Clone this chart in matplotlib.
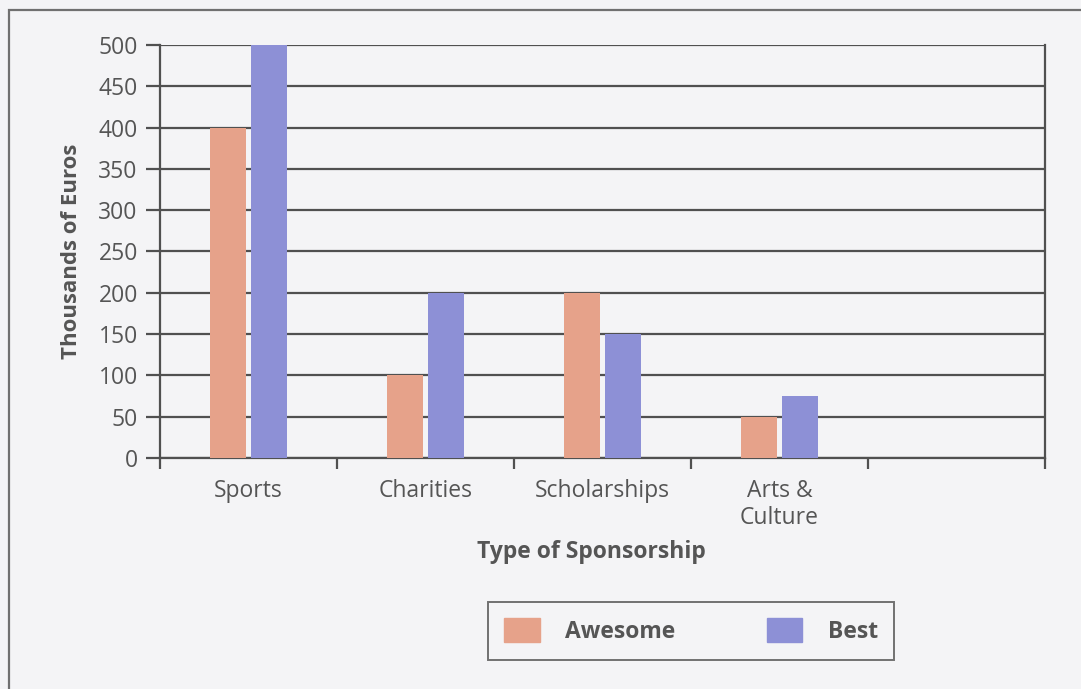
import matplotlib.pyplot as plt
import numpy as np
from matplotlib.patches import Rectangle, Patch

plt.rcParams['font.family'] = ['Open Sans', 'DejaVu Sans']

categories = ['Sports', 'Charities', 'Scholarships', 'Arts &\nCulture']
awesome = [400, 100, 200, 50]
best = [500, 200, 150, 75]
series_names = ['Awesome', 'Best']
yticks = [0, 50, 100, 150, 200, 250, 300, 350, 400, 450, 500]

c_awesome = '#e6a28a'
c_best = '#8d90d6'
grey = '#555555'
bg = '#f4f4f6'

fig = plt.figure(figsize=(10.81, 6.89), dpi=100, facecolor=bg)
ax = fig.add_axes([0.148, 0.3353, 0.8187, 0.5994], facecolor=bg)

x = np.arange(len(categories)) + 0.5
w = 0.2
gap = 0.03
ax.bar(x - (w + gap) / 2, awesome, w, color=c_awesome, zorder=3, label=series_names[0])
ax.bar(x + (w + gap) / 2, best, w, color=c_best, zorder=3, label=series_names[1])

ax.set_xlim(0, 5)
ax.set_ylim(0, 500)
ax.set_yticks(yticks)
ax.set_xticks(np.arange(6))
ax.set_xticks(x, minor=True)
ax.set_xticklabels([])
ax.set_xticklabels(categories, minor=True)
ax.yaxis.grid(True, color='#505050', lw=1.6, zorder=1)

for s in ['left', 'right', 'bottom']:
    ax.spines[s].set_color('#505050')
    ax.spines[s].set_linewidth(1.6)
ax.spines['top'].set_visible(False)

ax.tick_params(axis='y', length=10, width=1.6, color='#505050', pad=6,
               labelsize=16.5, labelcolor=grey)
ax.tick_params(axis='x', which='major', length=8, width=1.6, color='#505050', direction='out')
ax.tick_params(axis='x', which='minor', length=0, pad=15, labelsize=16.5, labelcolor=grey)

ax.set_ylabel('Thousands of Euros', fontsize=16, fontweight='bold', color=grey, labelpad=12)
fig.text(591 / 1081, 1 - 552 / 689, 'Type of Sponsorship', fontsize=16.5, fontweight='bold',
         color=grey, ha='center', va='center')

# legend box
handles = [Patch(color=c_awesome), Patch(color=c_best)]
leg = fig.legend(handles, series_names, loc='center', bbox_to_anchor=(691 / 1081, 1 - 631 / 689),
                 ncol=2, frameon=True, fancybox=False, handlelength=1.55,
                 handleheight=1.2, columnspacing=4.0, handletextpad=1.1, borderpad=0.72,
                 prop={'weight': 'bold', 'size': 16.5})
leg.get_frame().set_edgecolor('#505050')
leg.get_frame().set_linewidth(1.4)
leg.get_frame().set_facecolor(bg)
for t in leg.get_texts():
    t.set_color(grey)

# outer page frame
fig.patches.append(Rectangle((9 / 1081, -0.1), 1.2, 1 - 10 / 689 + 0.1, transform=fig.transFigure,
                             fill=False, edgecolor='#707070', lw=1.6))

fig.savefig('out.png', dpi=100, facecolor=bg)
